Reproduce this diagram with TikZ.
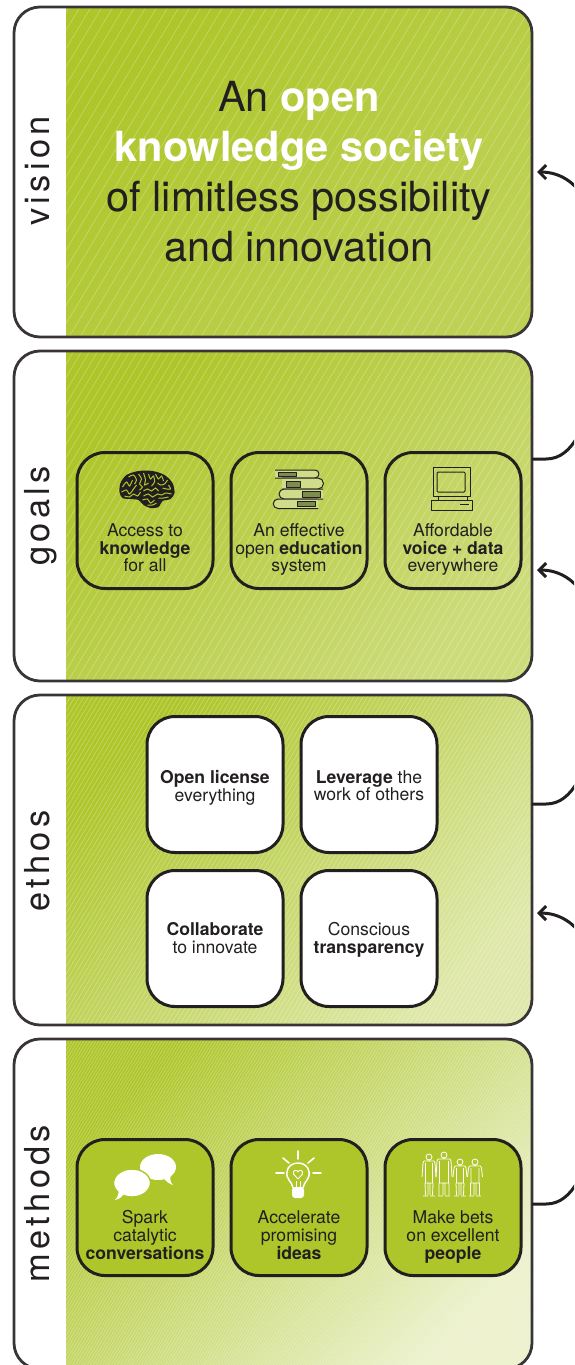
\documentclass[tikz,border=0pt]{standalone}
\usepackage{fontspec}
\setmainfont{TeX Gyre Heros}
\usetikzlibrary{arrows.meta}

\definecolor{leaf}{HTML}{AEC62A}
\definecolor{ink}{HTML}{231F20}
\definecolor{pagelight}{HTML}{CFDC8A}
\definecolor{pagedark}{HTML}{7C8C4C}

\tikzset{
  panel/.style={draw=ink!90, line width=2.8pt, rounded corners=26pt, inner sep=0pt, outer sep=0pt,
    minimum width=518pt, minimum height=330pt},
  tile/.style={draw=ink, line width=3pt, rounded corners=28pt, inner sep=0pt, outer sep=0pt,
    minimum width=136pt, minimum height=136pt},
  tiletext/.style={align=center, text=ink, font=\fontsize{17.6}{17.8}\selectfont,
    inner sep=0pt, execute at begin node=\strut, execute at end node=\strut},
  sidetext/.style={rotate=90, anchor=base, text=ink,
    font=\fontsize{34.4}{34}\selectfont\addfontfeature{LetterSpace=12.5}},
  link/.style={draw=ink, line width=3pt, -{Straight Barb[length=7pt,width=14pt]}},
  icon/.style={draw=ink, line width=1pt, line join=round},
  whiteline/.style={draw=white, line cap=round}
}

% colour area of one panel: top, bottom, far colour, hatch step
\newcommand{\panelfill}[4]{
  \begin{scope}
    \clip[rounded corners=26pt] (14,#1) rectangle (532,#2);
    \shade[left color=leaf, right color=#3, shading angle=45] (66,#1) rectangle (532,#2);
    \clip (66,#1) rectangle (532,#2);
    \pgfmathsetmacro{\hnext}{-140+#4}
    \foreach \hx in {-140,\hnext,...,540}
      \draw[white, opacity=0.3, line width=0.6pt] (\hx,#2) -- ++(198,-330);
  \end{scope}
}

\begin{document}
\begin{tikzpicture}[x=1pt,y=-1pt]
\useasboundingbox (0,0) rectangle (574,1365);
\clip (0,0) rectangle (574,1365);

\panelfill{7}{337}{leaf!80!white}{11}
\panelfill{351}{681}{leaf!62!white}{8}
\panelfill{695}{1025}{leaf!40!white}{4.5}
\panelfill{1039}{1369}{leaf!24!white}{3}

\node[panel] (vision) at (273,172) {};
\node[panel] (goals) at (273,516) {};
\node[panel] (ethos) at (273,860) {};
\node[panel] (methods) at (273,1204) {};

\node[sidetext] (visionlabel) at (49,171) {vision};
\node[sidetext] (goalslabel) at (49,516) {goals};
\node[sidetext] (ethoslabel) at (49,861) {ethos};
\node[sidetext] (methodslabel) at (49,1203.5) {methods};

\node[align=center, text=ink, font=\fontsize{41.5}{50}\selectfont] (visiontext) at (299,172)
  {An \textcolor{white}{\textbf{open}}\\\textcolor{white}{\textbf{knowledge society}}\\of limitless possibility\\and innovation};

% goals
\node[tile] (access) at (145,520.5) {};
\node[tile] (education) at (299,520.5) {};
\node[tile] (voice) at (453,520.5) {};
\node[tiletext] (accesstext) at (145,550.4) {Access to\\\textbf{knowledge}\\for all};
\node[tiletext] (educationtext) at (299,550.4) {An effective\\open \textbf{education}\\system};
\node[tiletext] (voicetext) at (453,550.4) {Affordable\\\textbf{voice + data}\\everywhere};

% ethos
\node[tile, fill=white] (license) at (215,784.5) {};
\node[tile, fill=white] (leverage) at (369,784.5) {};
\node[tile, fill=white] (collaborate) at (215,938.5) {};
\node[tile, fill=white] (conscious) at (369,938.5) {};
\node[tiletext] (licensetext) at (215,788.3) {\textbf{Open license}\\everything};
\node[tiletext] (leveragetext) at (369,788.3) {\textbf{Leverage} the\\work of others};
\node[tiletext] (collaboratetext) at (215,940.3) {\textbf{Collaborate}\\to innovate};
\node[tiletext] (conscioustext) at (369,940.3) {Conscious\\\textbf{transparency}};

% methods
\node[tile, fill=leaf] (spark) at (145,1207.5) {};
\node[tile, fill=leaf] (accelerate) at (299,1207.5) {};
\node[tile, fill=leaf] (bets) at (453,1207.5) {};
\node[tiletext] (sparktext) at (145,1237.7) {Spark\\catalytic\\\textbf{conversations}};
\node[tiletext] (acceleratetext) at (299,1237.7) {Accelerate\\promising\\\textbf{ideas}};
\node[tiletext] (betstext) at (453,1237.7) {Make bets\\on excellent\\\textbf{people}};

% links run off the right edge
\coordinate (goalsout) at (532,459);
\coordinate (visionin) at (537,172);
\coordinate (ethosout) at (532,804);
\coordinate (goalsin) at (537,570);
\coordinate (methodsout) at (532,1204);
\coordinate (ethosin) at (537,913);
\draw[link] (goalsout) -- (546,459) .. controls (560,459) and (570,450) .. (578,436)
  -- (584,198) .. controls (572,178) and (555,172) .. (visionin);
\draw[link] (ethosout) -- (546,804) .. controls (560,804) and (570,795) .. (578,781)
  -- (584,596) .. controls (572,576) and (555,570) .. (goalsin);
\draw[link] (methodsout) -- (546,1204) .. controls (560,1204) and (570,1195) .. (578,1181)
  -- (584,939) .. controls (572,919) and (555,913) .. (ethosin);

% brain
\begin{scope}[shift={(146.5,489)}]
\fill[ink] plot[smooth cycle] coordinates{(-27,3) (-26,-6) (-20,-14) (-8,-18) (6,-18) (18,-14) (26,-6) (28,4) (24,10) (16,12) (12,18) (4,19) (-3,16) (-8,11) (-16,10) (-24,9)};
\foreach \fold in {
  {(-24,-2) (-20,-7) (-17,-3) (-14,-9)},
  {(-18,-12) (-13,-14) (-10,-9) (-12,-5)},
  {(-25,3) (-20,1) (-17,5) (-13,0) (-10,-4)},
  {(-22,7) (-17,8) (-13,5) (-9,7) (-6,3)},
  {(-8,-15) (-5,-10) (-7,-5) (-4,-2) (-7,1)},
  {(-3,-16) (-1,-9) (-2,-4) (2,-6)},
  {(2,-15) (4,-10) (7,-13) (8,-7) (5,-3)},
  {(9,-15) (12,-10) (15,-13) (17,-8)},
  {(11,-6) (14,-4) (18,-5) (21,-9)},
  {(22,-4) (24,0) (20,0) (16,-1)},
  {(-3,2) (1,0) (5,2) (9,-1) (12,2)},
  {(-3,7) (2,5) (6,8) (11,5) (15,6) (19,4) (25,5)},
  {(-4,11) (1,10) (4,14) (8,11)},
  {(1,16) (6,16) (10,14)},
  {(12,9) (17,9) (22,8)}}
  \draw[leaf, line width=1pt] plot[smooth] coordinates \fold;
\end{scope}

% books
\draw[icon, fill=pagelight] (275,470) -- (315,470) arc[start angle=-90, end angle=90, radius=4] -- (275,478);
\draw[icon, fill=pagedark] (278,472) -- (296,472) -- (296,476) -- (278,476) -- cycle;
\draw[icon, fill=pagelight] (282,478) -- (318,478) arc[start angle=-90, end angle=90, radius=5.5] -- (282,489);
\draw[icon, fill=pagedark] (286,481) -- (300,481) -- (300,487) -- (286,487) -- cycle;
\draw[icon, fill=pagelight] (323,489) -- (284,489) arc[start angle=-90, end angle=-270, radius=5] -- (323,499);
\draw[icon, fill=pagedark] (320,491) -- (302,491) -- (302,497) -- (320,497) -- cycle;
\draw[icon, fill=pagelight] (318,499) -- (278,499) arc[start angle=-90, end angle=-270, radius=4.75] -- (318,508.5);
\draw[icon, fill=pagedark] (315,501) -- (297,501) -- (297,506.5) -- (315,506.5) -- cycle;

% computer
\draw[icon] (433,467) rectangle (470,496);
\draw[icon, rounded corners=1pt] (437,472) rectangle (465,492);
\draw[icon] (438,496) -- (438,500) (467,496) -- (467,500);
\draw[icon] (431,500) rectangle (472,510);
\draw[icon] (460,504) -- (469,504);

% bubbles
\fill[white] (158,1167) ellipse[x radius=18, y radius=13];
\fill[white] (162,1176) .. controls (166,1182) and (170,1184) .. (173,1185) .. controls (170,1182) and (170,1179) .. (171,1174) -- cycle;
\draw[leaf, line width=1.4pt, fill=white] (132,1183) ellipse[x radius=18.5, y radius=14];
\fill[white] (125,1192) .. controls (123,1196) and (120,1199) .. (115,1200) .. controls (118,1197) and (119,1193) .. (119,1188) -- cycle;

% bulb
\draw[white, line width=1.5pt] (293,1188) .. controls (292,1181) and (286,1180) .. (287,1172) .. controls (288,1160) and (308,1160) .. (309,1172) .. controls (310,1180) and (304,1181) .. (303,1188);
\draw[white, line width=1pt] (296,1188) -- (296,1181) (300,1188) -- (300,1181);
\fill[white, rounded corners=3pt] (292,1187) -- (304,1187) -- (304,1198) -- (292,1198) -- cycle;
\draw[white, line width=0.9pt, line join=round] (298,1179) -- (293.5,1174) .. controls (292.5,1170) and (297,1169) .. (298,1172) .. controls (299,1169) and (303.5,1170) .. (302.5,1174) -- cycle;
\draw[whiteline, line width=1.6pt] (298,1151) -- (298,1159) (283,1158) -- (289,1163) (314,1158) -- (308,1163) (276,1173) -- (284,1173) (313,1173) -- (321,1173);

% people
\foreach \px/\hy/\hw/\lg in {429/1157/6/2.5, 444/1155/7/4, 460/1162/6/2.5, 475/1162/6.5/3.5} {
  \draw[white, line width=0.8pt, line join=round]
    (\px,\hy) circle[radius=3]
    (\px-\hw+1,\hy+4) -- (\px+\hw-1,\hy+4) -- (\px+\hw,\hy+6) -- (\px+\hw+1,1177)
    (\px-\hw+1,\hy+4) -- (\px-\hw,\hy+6) -- (\px-\hw-1,1177)
    (\px-\hw+2.5,\hy+6) -- (\px-\hw+2.5,1183) -- (\px+\hw-2.5,1183) -- (\px+\hw-2.5,\hy+6)
    (\px-\hw+2,1183) -- (\px-\lg-1,1195) (\px-1,1183) -- (\px-1,1195)
    (\px+\hw-2,1183) -- (\px+\lg+1,1195) (\px+1,1183) -- (\px+1,1195)
    (\px-6,1196) -- (\px-1,1196) (\px+1,1196) -- (\px+6,1196);
}
\end{tikzpicture}
\end{document}
